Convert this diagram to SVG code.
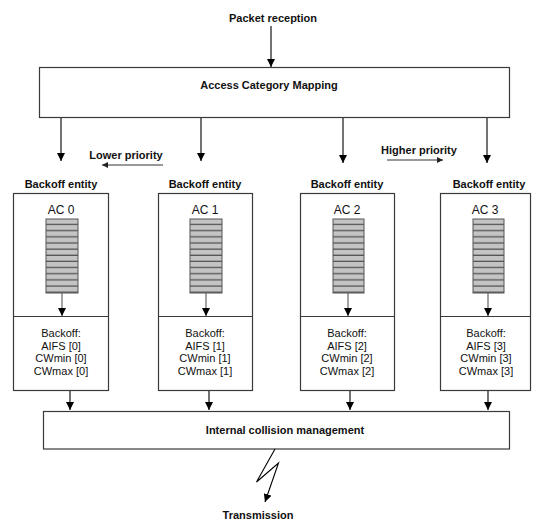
<svg xmlns="http://www.w3.org/2000/svg" width="535" height="520" viewBox="0 0 535 520">
<defs>
<marker id="ah" viewBox="0 0 10 10" refX="10" refY="5" markerWidth="8" markerHeight="8" markerUnits="userSpaceOnUse" orient="auto">
<path d="M0,0 L10,5 L0,10 z" fill="#000"/>
</marker>
<marker id="ahs" viewBox="0 0 10 10" refX="10" refY="5" markerWidth="7" markerHeight="6" markerUnits="userSpaceOnUse" orient="auto">
<path d="M0,0 L10,5 L0,10 z" fill="#222"/>
</marker>
<pattern id="q" x="0" y="219" width="40" height="6.15" patternUnits="userSpaceOnUse">
<rect width="40" height="6.15" fill="#c4c4c4"/>
<rect y="4.9" width="40" height="1.3" fill="#505050"/>
</pattern>
</defs>
<style>
.box{fill:#fff;stroke:#3a3a3a;stroke-width:1.2}
.t{font-family:"Liberation Sans",Arial,sans-serif;font-size:11px;font-weight:bold;fill:#111;text-anchor:middle}
.r{font-family:"Liberation Sans",Arial,sans-serif;font-size:11px;fill:#111;text-anchor:middle}
.ac{font-family:"Liberation Sans",Arial,sans-serif;font-size:12px;fill:#111;text-anchor:middle}
.c{stroke:#000;stroke-width:1.1;fill:none;marker-end:url(#ah)}
.cs{stroke:#333;stroke-width:1;fill:none;marker-end:url(#ahs)}
.queue{fill:url(#q);stroke:#555;stroke-width:1}
.qa{stroke:#666;stroke-width:1.2;fill:none;marker-end:url(#ah)}
</style>
<rect width="535" height="520" fill="#fff"/>

<g id="packet-reception">
<text class="t" x="273" y="22">Packet reception</text>
</g>

<g id="access-category-mapping">
<rect class="box" x="39.5" y="67.5" width="470" height="50"/>
<text class="t" x="269" y="89">Access Category Mapping</text>
</g>

<g id="lower-priority">
<text class="t" x="126" y="159">Lower priority</text>
</g>
<g id="higher-priority">
<text class="t" x="419" y="154">Higher priority</text>
</g>

<g id="ac0">
<text class="t" x="61" y="188">Backoff entity</text>
<rect class="box" x="13.5" y="193.5" width="95" height="197"/>
<line x1="13.5" y1="316.5" x2="108.5" y2="316.5" stroke="#3a3a3a" stroke-width="1.2"/>
<text class="ac" x="61" y="214">AC 0</text>
<rect class="queue" x="46" y="219" width="32" height="74"/>
<line class="qa" x1="62" y1="293" x2="62" y2="316"/>
<text class="r" x="61" y="337">Backoff:</text>
<text class="r" x="61" y="350">AIFS [0]</text>
<text class="r" x="61" y="362">CWmin [0]</text>
<text class="r" x="61" y="375">CWmax [0]</text>
</g>

<g id="ac1">
<text class="t" x="205" y="188">Backoff entity</text>
<rect class="box" x="158.5" y="193.5" width="94" height="197"/>
<line x1="158.5" y1="316.5" x2="252.5" y2="316.5" stroke="#3a3a3a" stroke-width="1.2"/>
<text class="ac" x="205" y="214">AC 1</text>
<rect class="queue" x="190" y="219" width="32" height="74"/>
<line class="qa" x1="206" y1="293" x2="206" y2="316"/>
<text class="r" x="205" y="337">Backoff:</text>
<text class="r" x="205" y="350">AIFS [1]</text>
<text class="r" x="205" y="362">CWmin [1]</text>
<text class="r" x="205" y="375">CWmax [1]</text>
</g>

<g id="ac2">
<text class="t" x="347" y="188">Backoff entity</text>
<rect class="box" x="300.5" y="193.5" width="94" height="197"/>
<line x1="300.5" y1="316.5" x2="394.5" y2="316.5" stroke="#3a3a3a" stroke-width="1.2"/>
<text class="ac" x="347" y="214">AC 2</text>
<rect class="queue" x="333" y="219" width="31" height="74"/>
<line class="qa" x1="348" y1="293" x2="348" y2="316"/>
<text class="r" x="347" y="337">Backoff:</text>
<text class="r" x="347" y="350">AIFS [2]</text>
<text class="r" x="347" y="362">CWmin [2]</text>
<text class="r" x="347" y="375">CWmax [2]</text>
</g>

<g id="ac3">
<text class="t" x="489" y="188">Backoff entity</text>
<rect class="box" x="440.5" y="193.5" width="90" height="197"/>
<line x1="440.5" y1="316.5" x2="530.5" y2="316.5" stroke="#3a3a3a" stroke-width="1.2"/>
<text class="ac" x="485" y="214">AC 3</text>
<rect class="queue" x="473" y="219" width="31" height="74"/>
<line class="qa" x1="488" y1="293" x2="488" y2="316"/>
<text class="r" x="486" y="337">Backoff:</text>
<text class="r" x="486" y="350">AIFS [3]</text>
<text class="r" x="486" y="362">CWmin [3]</text>
<text class="r" x="486" y="375">CWmax [3]</text>
</g>

<g id="internal-collision-management">
<rect class="box" x="43.5" y="411.5" width="466" height="37.5"/>
<text class="t" x="285" y="434">Internal collision management</text>
</g>

<g id="transmission">
<text class="t" x="258" y="519">Transmission</text>
</g>

<g id="connectors">
<line class="c" x1="271" y1="26" x2="271" y2="67"/>
<line class="c" x1="61" y1="118" x2="61" y2="161"/>
<line class="c" x1="201" y1="118" x2="201" y2="161"/>
<line class="c" x1="343" y1="118" x2="343" y2="163"/>
<line class="c" x1="487" y1="118" x2="487" y2="163"/>
<line class="cs" x1="163" y1="165" x2="102" y2="165"/>
<line class="cs" x1="387" y1="160" x2="443" y2="160"/>
<line class="c" x1="70" y1="391" x2="70" y2="410"/>
<line class="c" x1="209" y1="391" x2="209" y2="410"/>
<line class="c" x1="350" y1="391" x2="350" y2="410"/>
<line class="c" x1="488" y1="391" x2="488" y2="410"/>
<polyline class="c" stroke-width="0.9" points="275,449 256.5,482 278.5,463 265,502"/>
</g>
</svg>
